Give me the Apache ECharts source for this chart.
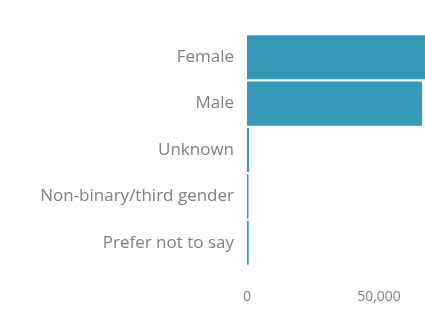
<!DOCTYPE html>
<html>
<head>
<meta charset="utf-8">
<script src="https://cdn.jsdelivr.net/npm/echarts@6/dist/echarts.min.js"></script>
<style>
  html, body { margin: 0; padding: 0; background: #fff; }
  #chart { width: 425px; height: 311px; }
</style>
</head>
<body>
<div id="chart"></div>
<script>
// categories top to bottom
const categories = ['Female', 'Male', 'Unknown', 'Non-binary/third gender', 'Prefer not to say'];
const counts = [70000, 66300, 750, 550, 650];
// the visual is cropped on the right, so the axis ends where the picture ends
const xTicks = { min: 0, max: 67400, interval: 50000 };

const chart = echarts.init(document.getElementById('chart'));

const option = {
  animation: false,
  grid: {
    left: 247,
    right: 0,
    top: 34,
    bottom: 45
  },
  xAxis: {
    type: 'value',
    min: xTicks.min,
    max: xTicks.max,
    interval: xTicks.interval,
    axisLine: { show: false },
    axisTick: { show: false },
    splitLine: { show: false },
    axisLabel: {
      margin: 24,
      color: '#808080',
      fontFamily: 'Open Sans, sans-serif',
      fontSize: 14,
      showMaxLabel: false,
      formatter: (v) => v.toLocaleString('en-US')
    }
  },
  yAxis: {
    type: 'category',
    data: categories,
    inverse: true,
    axisLine: { show: false },
    axisTick: { show: false },
    axisLabel: {
      margin: 13,
      color: '#808080',
      fontFamily: 'Open Sans, sans-serif',
      fontSize: 17
    }
  },
  series: [
    {
      type: 'bar',
      data: counts,
      barCategoryGap: '5%',
      itemStyle: { color: '#3599B8' }
    }
  ]
};

chart.setOption(option);
</script>
</body>
</html>
